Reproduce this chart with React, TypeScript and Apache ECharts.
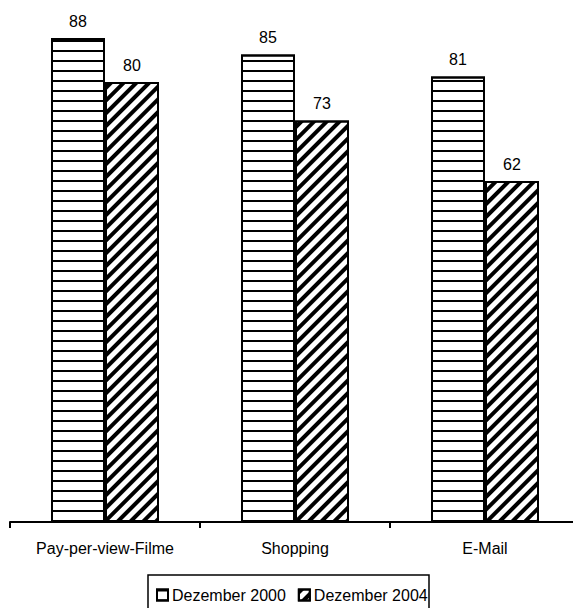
import React, { useEffect, useRef } from "react";
import * as echarts from "echarts";

const categories = ["Pay-per-view-Filme", "Shopping", "E-Mail"];
const series2000 = [88, 85, 81];
const series2004 = [80, 73, 62];
const seriesNames = ["Dezember 2000", "Dezember 2004"];

const FONT = "'Liberation Sans', Arial, sans-serif";

export default function App() {
  const ref = useRef<HTMLDivElement>(null);
  useEffect(() => {
    if (!ref.current) return;
    const chart = echarts.init(ref.current, null, { renderer: "svg" });
    const label = {
      show: true,
      position: "top",
      distance: 9,
      color: "#000",
      fontSize: 16,
      fontFamily: FONT,
    };
    chart.setOption({
      animation: false,
      backgroundColor: "#fff",
      textStyle: { fontFamily: FONT },
      grid: { left: 10, top: 5, width: 570, bottom: 86 },
      xAxis: {
        type: "category",
        data: categories,
        axisLine: { show: true, lineStyle: { color: "#000", width: 2 } },
        axisTick: { show: true, inside: false, length: 6, lineStyle: { color: "#000", width: 2 } },
        axisLabel: { color: "#000", fontSize: 16, fontFamily: FONT, margin: 18 },
      },
      yAxis: {
        type: "value",
        min: 0,
        max: 94,
        show: false,
        splitLine: { show: false },
      },
      legend: {
        left: 156,
        top: 587,
        padding: 0,
        itemWidth: 11,
        itemHeight: 11,
        itemGap: 12,
        icon: "rect",
        textStyle: { color: "#000", fontSize: 16, fontFamily: FONT, padding: [0, 0, 0, -1] },
        data: seriesNames,
      },
      graphic: [
        {
          type: "rect",
          shape: { x: 148, y: 575, width: 281, height: 45 },
          style: { fill: "none", stroke: "#000", lineWidth: 1.5 },
          silent: true,
        },
      ],
      series: [
        {
          name: seriesNames[0],
          type: "bar",
          data: series2000,
          barWidth: 54,
          barGap: "0%",
          itemStyle: {
            color: "#fff",
            borderColor: "#000",
            borderWidth: 2,
            decal: {
              symbol: "rect",
              symbolSize: 1,
              dashArrayX: [1, 0],
              dashArrayY: [2, 8],
              color: "#000",
              rotation: 0,
            },
          },
          label,
        },
        {
          name: seriesNames[1],
          type: "bar",
          data: series2004,
          barWidth: 54,
          barGap: "0%",
          itemStyle: {
            color: "#fff",
            borderColor: "#000",
            borderWidth: 2,
            decal: {
              symbol: "rect",
              symbolSize: 1,
              dashArrayX: [1, 0],
              dashArrayY: [4, 5],
              color: "#000",
              rotation: -Math.PI / 4,
            },
          },
          label,
        },
      ],
    });
    return () => chart.dispose();
  }, []);
  return (
    <div
      style={{ position: "absolute", left: 0, top: 0, width: 573, height: 608, overflow: "hidden" }}
    >
      <div ref={ref} style={{ width: 600, height: 608 }} />
    </div>
  );
}
